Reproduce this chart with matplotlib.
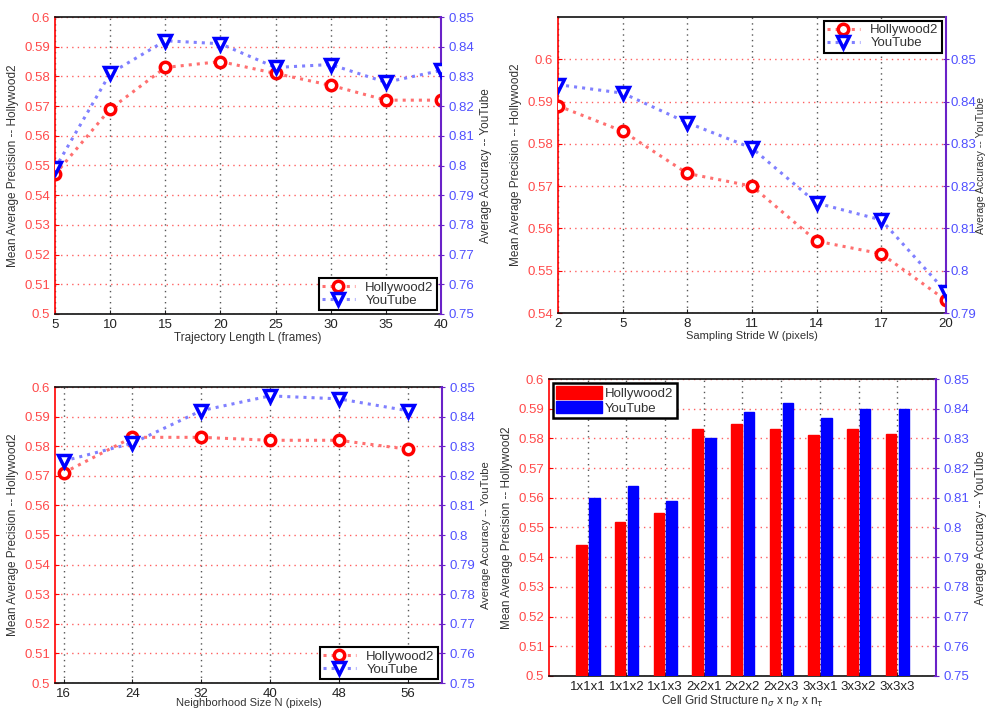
import numpy as np
import matplotlib
matplotlib.use('Agg')
import matplotlib.pyplot as plt

plt.rcParams['font.family'] = ['Liberation Sans', 'DejaVu Sans']

# data
traj_len = [5, 10, 15, 20, 25, 30, 35, 40]
traj_holly = [0.547, 0.569, 0.583, 0.585, 0.581, 0.577, 0.572, 0.572]
traj_yt = [0.799, 0.831, 0.842, 0.841, 0.833, 0.834, 0.828, 0.832]

stride = [2, 5, 8, 11, 14, 17, 20]
stride_holly = [0.589, 0.583, 0.573, 0.570, 0.557, 0.554, 0.543]
stride_yt = [0.844, 0.842, 0.835, 0.829, 0.816, 0.812, 0.795]

nsize = [16, 24, 32, 40, 48, 56]
nsize_holly = [0.571, 0.583, 0.583, 0.582, 0.582, 0.579]
nsize_yt = [0.825, 0.831, 0.842, 0.847, 0.846, 0.842]

grids = ['1x1x1', '1x1x2', '1x1x3', '2x2x1', '2x2x2', '2x2x3', '3x3x1', '3x3x2', '3x3x3']
grid_holly = [0.544, 0.552, 0.555, 0.583, 0.585, 0.583, 0.581, 0.583, 0.5815]
grid_yt = [0.810, 0.814, 0.809, 0.830, 0.839, 0.842, 0.837, 0.840, 0.840]

RED_TXT = '#ff4a4a'
BLUE_TXT = '#5050ff'
PURPLE = '#6a22c8'
LBL = '#333333'

W, H = 987, 711
fig = plt.figure(figsize=(W / 100, H / 100), dpi=100)


def make_axes(l, r, t, b):
    return fig.add_axes([l / W, (H - b) / H, (r - l) / W, (b - t) / H])


def style(ax, ax2, xlabel, ylim, y2lim, yticks, y2ticks, rpad=4, xpad=1, lsize=8.5):
    ax.set_ylim(*ylim)
    ax2.set_ylim(*y2lim)
    ax.set_yticks(yticks)
    ax.set_yticklabels([f'{v:g}' for v in yticks])
    ax2.set_yticks(y2ticks)
    ax2.set_yticklabels([f'{v:g}' for v in y2ticks])
    ax.tick_params(axis='y', colors='red', labelcolor=RED_TXT, direction='in', labelsize=9.5, length=3)
    ax.tick_params(axis='x', direction='in', labelsize=9.5, length=3, colors='#222222')
    ax2.tick_params(axis='y', colors=PURPLE, labelcolor=BLUE_TXT, direction='inout', labelsize=9.5, length=4)
    ax.spines['left'].set_color('red')
    ax.spines['right'].set_visible(False)
    ax2.spines['left'].set_visible(False)
    ax2.spines['right'].set_color(PURPLE)
    ax2.spines['right'].set_linewidth(1.5)
    ax.spines['left'].set_linewidth(1.2)
    for s in ['top', 'bottom']:
        ax.spines[s].set_linewidth(1.2)
        ax.spines[s].set_color('#111111')
    ax2.spines['top'].set_visible(False)
    ax2.spines['bottom'].set_visible(False)
    ax.yaxis.grid(True, color='#ff6060', linestyle=(0, (1, 3)), linewidth=1)
    ax.xaxis.grid(True, color='#555555', linestyle=(0, (1, 3)), linewidth=1)
    ax.set_axisbelow(True)
    ax.set_xlabel(xlabel, fontsize=lsize, color=LBL, labelpad=xpad)
    ax.set_ylabel('Mean Average Precision -- Hollywood2', fontsize=8.5, color=LBL, labelpad=4)
    ax2.set_ylabel('Average Accuracy -- YouTube', fontsize=lsize, color=LBL, labelpad=rpad)


def line_panel(box, x, holly, yt, xlabel, xlim, ylim, y2lim, yticks, y2ticks, loc,
               rpad=4, xpad=1, lsize=8.5):
    ax = make_axes(*box)
    ax2 = ax.twinx()
    h1, = ax.plot(x, holly, linestyle=':', color='#ff7070', linewidth=2.2, marker='o',
                  markersize=7.5, markeredgecolor='red', markerfacecolor='white',
                  markeredgewidth=2.5, label='Hollywood2', zorder=3)
    h2, = ax2.plot(x, yt, linestyle=':', color='#8080ff', linewidth=2.2, marker='v',
                   markersize=8.5, markeredgecolor='blue', markerfacecolor='white',
                   markeredgewidth=2.5, label='YouTube', zorder=3)
    ax.set_xlim(*xlim)
    ax.set_xticks(x)
    style(ax, ax2, xlabel, ylim, y2lim, yticks, y2ticks, rpad, xpad, lsize)
    leg = ax2.legend([h1, h2], ['Hollywood2', 'YouTube'], loc=loc, fontsize=9.5,
                     fancybox=False, edgecolor='black', framealpha=1,
                     borderaxespad=0.3, handlelength=2.5, labelspacing=0.05,
                     borderpad=0.25)
    leg.get_frame().set_linewidth(1.5)
    for t in leg.get_texts():
        t.set_color(LBL)
    return ax, ax2


t1 = np.round(np.arange(0.5, 0.6001, 0.01), 2)
t2 = np.round(np.arange(0.75, 0.8501, 0.01), 2)

line_panel((55, 441, 17, 314), traj_len, traj_holly, traj_yt,
           'Trajectory Length L (frames)', (5, 40), (0.5, 0.6), (0.75, 0.85),
           t1, t2, 'lower right')

ax_s, ax_s2 = line_panel((558, 946, 17, 313), stride, stride_holly, stride_yt,
                         'Sampling Stride W (pixels)', (2, 20), (0.54, 0.61), (0.79, 0.86),
                         np.round(np.arange(0.54, 0.6001, 0.01), 2),
                         np.round(np.arange(0.79, 0.8501, 0.01), 2), 'upper right', lsize=8)
# the right label sits against the figure edge here
ax_s2.tick_params(axis='y', pad=1.5)
ax_s2.yaxis.label.set_fontsize(7.5)
ax_s2.yaxis.set_label_coords(1.0905, 0.5)
ax_s2.yaxis.label.set_va('center')

line_panel((55, 442, 387, 683), nsize, nsize_holly, nsize_yt,
           'Neighborhood Size N (pixels)', (15, 60), (0.5, 0.6), (0.75, 0.85),
           t1, t2, 'lower right', xpad=-1, lsize=8)

# bar panel
ax = make_axes(549, 936, 379, 676)
ax2 = ax.twinx()
pos = np.arange(1, len(grids) + 1)
bw = 0.27
b1 = ax.bar(pos - 0.16, np.array(grid_holly) - 0.5, bottom=0.5, width=bw, color='red',
            edgecolor='red', zorder=3)
b2 = ax2.bar(pos + 0.17, np.array(grid_yt) - 0.75, bottom=0.75, width=bw, color='blue',
             edgecolor='blue', zorder=3)
ax.set_xlim(0, 10)
ax.set_xticks(pos)
ax.set_xticklabels(grids)
style(ax, ax2, r'Cell Grid Structure n$_\sigma$ x n$_\sigma$ x n$_\tau$', (0.5, 0.6), (0.75, 0.85), t1, t2)
leg = ax2.legend([b1, b2], ['Hollywood2', 'YouTube'], loc='upper left', fontsize=9.5,
                 fancybox=False, edgecolor='black', framealpha=1, borderaxespad=0.3,
                 handlelength=3.5, handleheight=1.1, labelspacing=0.05, handletextpad=0.2,
                 borderpad=0.25)
leg.get_frame().set_linewidth(1.8)
for t in leg.get_texts():
    t.set_color(LBL)

fig.savefig('out.png', dpi=100)
